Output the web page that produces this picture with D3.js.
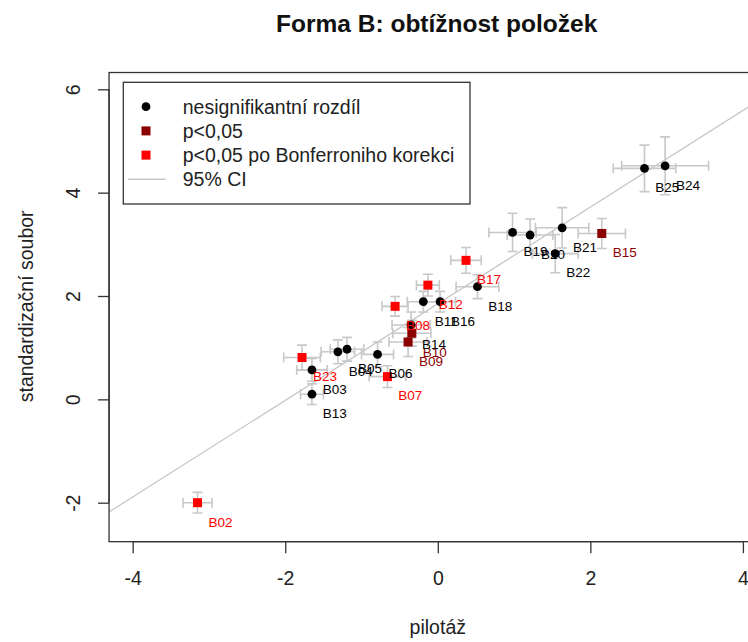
<!DOCTYPE html>
<html>
<head>
<meta charset="utf-8">
<script src="https://cdn.jsdelivr.net/npm/d3@7"></script>
<style>
  body { margin: 0; background: #fff; }
  text { font-family: "Liberation Sans", Arial, sans-serif; }
</style>
</head>
<body>
<div id="chart"></div>
<script>
// item labels, pilot (x) vs standardisation sample (y), with 95% CI half-widths
const items = ['B02','B03','B04','B05','B06','B07','B08','B09','B10','B11','B12','B13',
               'B14','B15','B16','B17','B18','B19','B20','B21','B22','B23','B24','B25'];
const pilot = [-3.15,-1.65,-1.31,-1.19,-0.79,-0.66,-0.56,-0.39,-0.34,-0.19,-0.13,-1.65,
               -0.35, 2.15, 0.03, 0.37, 0.52, 0.98, 1.21, 1.63, 1.54,-1.78, 2.98, 2.71];
const standard = [-2.00, 0.57, 0.92, 0.97, 0.87, 0.44, 1.80, 1.11, 1.28, 1.89, 2.21, 0.10,
                  1.44, 3.21, 1.89, 2.69, 2.18, 3.23, 3.18, 3.32, 2.82, 0.81, 4.52, 4.47];
const ciPilot = [0.19,0.20,0.22,0.22,0.21,0.24,0.17,0.25,0.25,0.21,0.15,0.15,
                 0.25,0.31,0.20,0.20,0.28,0.31,0.30,0.35,0.30,0.24,0.57,0.41];
const ciStandard = [0.20,0.22,0.23,0.23,0.24,0.21,0.19,0.28,0.25,0.20,0.21,0.20,
                    0.25,0.29,0.20,0.25,0.23,0.37,0.31,0.39,0.37,0.24,0.56,0.45];
// 0 = nesignifikantní, 1 = p<0,05, 2 = po Bonferroniho korekci
const group = [2,0,0,0,0,2,2,1,1,0,2,0,
               0,1,0,2,0,0,0,0,0,2,0,0];

const legendLabels = ['nesignifikantní rozdíl', 'p<0,05', 'p<0,05 po Bonferroniho korekci', '95% CI'];
const groupColors = ['#000000', '#8b0000', '#ff0000'];
const xTicks = [-4, -2, 0, 2, 4];
const yTicks = [-2, 0, 2, 4, 6];
const fitIntercept = 1.85;
const fitSlope = 0.935;

const data = items.map((d, i) => ({
  id: d, x: pilot[i], y: standard[i], ex: ciPilot[i], ey: ciStandard[i], g: group[i]
}));

const width = 748, height = 642;
const xlim = [-4.31, 4.6], ylim = [-2.754, 6.325];

const x = d3.scaleLinear().domain([-4, 4]).range([132.7, 742.9]);
const y = d3.scaleLinear().domain([-2, 6]).range([502.7, 89.3]);

const svg = d3.select('#chart')
  .append('svg')
  .attr('width', width)
  .attr('height', height);

svg.append('defs').append('clipPath')
  .attr('id', 'plotclip')
  .append('rect')
  .attr('x', x(xlim[0]))
  .attr('y', y(ylim[1]))
  .attr('width', x(xlim[1]) - x(xlim[0]))
  .attr('height', y(ylim[0]) - y(ylim[1]));

// title
svg.append('text')
  .attr('x', 436.7)
  .attr('y', 32)
  .attr('text-anchor', 'middle')
  .attr('font-size', 24.5)
  .attr('font-weight', 'bold')
  .attr('fill', '#111')
  .text('Forma B: obtížnost položek');

// fitted line
const plot = svg.append('g').attr('clip-path', 'url(#plotclip)');
plot.append('line')
  .attr('x1', x(xlim[0]))
  .attr('y1', y(fitIntercept + fitSlope * xlim[0]))
  .attr('x2', x(xlim[1]))
  .attr('y2', y(fitIntercept + fitSlope * xlim[1]))
  .attr('stroke', '#c4c4c4')
  .attr('stroke-width', 1.2);

// error bars
const ciColor = '#c8c8c8';
const cap = 5;
const bars = plot.append('g')
  .attr('stroke', ciColor)
  .attr('stroke-width', 1.6)
  .attr('fill', 'none');

data.forEach(d => {
  const cx = x(d.x), cy = y(d.y);
  const x0 = x(d.x - d.ex), x1 = x(d.x + d.ex);
  const y0 = y(d.y - d.ey), y1 = y(d.y + d.ey);
  bars.append('path')
    .attr('d', `M${x0},${cy}H${x1}M${x0},${cy - cap}V${cy + cap}M${x1},${cy - cap}V${cy + cap}`);
  bars.append('path')
    .attr('d', `M${cx},${y0}V${y1}M${cx - cap},${y0}H${cx + cap}M${cx - cap},${y1}H${cx + cap}`);
});

// points, drawn group by group
[0, 1, 2].forEach(g => {
  const sub = data.filter(d => d.g === g);
  if (g === 0) {
    plot.selectAll(null)
      .data(sub)
      .enter().append('circle')
      .attr('cx', d => x(d.x))
      .attr('cy', d => y(d.y))
      .attr('r', 4.4)
      .attr('fill', groupColors[g]);
  } else {
    plot.selectAll(null)
      .data(sub)
      .enter().append('rect')
      .attr('x', d => x(d.x) - 4.5)
      .attr('y', d => y(d.y) - 4.5)
      .attr('width', 9)
      .attr('height', 9)
      .attr('fill', groupColors[g]);
  }
});

// item labels (they overlap in the original too)
plot.selectAll(null)
  .data(data)
  .enter().append('text')
  .attr('x', d => x(d.x + 0.3))
  .attr('y', d => y(d.y - 0.37))
  .attr('dy', '0.35em')
  .attr('text-anchor', 'middle')
  .attr('font-size', 13.5)
  .attr('fill', d => groupColors[d.g])
  .text(d => d.id);

// box
svg.append('rect')
  .attr('x', x(xlim[0]))
  .attr('y', y(ylim[1]))
  .attr('width', x(xlim[1]) - x(xlim[0]))
  .attr('height', y(ylim[0]) - y(ylim[1]))
  .attr('fill', 'none')
  .attr('stroke', '#333')
  .attr('stroke-width', 1.3);

// axes, R prints a plain hyphen for negatives
const fmt = d => String(d);
const xAxis = svg.append('g')
  .attr('transform', `translate(0,${y(ylim[0])})`)
  .call(d3.axisBottom(x).tickValues(xTicks).tickSize(11.5).tickPadding(18).tickFormat(fmt));
const yAxis = svg.append('g')
  .attr('transform', `translate(${x(xlim[0])},0)`)
  .call(d3.axisLeft(y).tickValues(yTicks).tickSize(11).tickFormat(fmt));

[xAxis, yAxis].forEach(a => {
  a.select('.domain').attr('stroke', '#333').attr('stroke-width', 1.3);
  a.selectAll('.tick line').attr('stroke', '#333').attr('stroke-width', 1.3);
  a.selectAll('text')
    .attr('font-family', '"Liberation Sans", Arial, sans-serif')
    .attr('font-size', 19.5)
    .attr('fill', '#222');
});
xAxis.select('.domain').attr('d', `M${x(-4)},0H${x(4)}`);
yAxis.select('.domain').attr('d', `M0,${y(-2)}V${y(6)}`);

// R-style rotated y tick labels
yAxis.selectAll('.tick text')
  .attr('x', 0)
  .attr('dy', null)
  .attr('text-anchor', 'middle')
  .attr('transform', 'translate(-36,0) rotate(-90) translate(0,7)');

// axis titles
svg.append('text')
  .attr('x', x(0))
  .attr('y', 634)
  .attr('text-anchor', 'middle')
  .attr('font-size', 19.5)
  .attr('fill', '#222')
  .text('pilotáž');

svg.append('text')
  .attr('transform', `translate(33,${y(1.8)}) rotate(-90)`)
  .attr('text-anchor', 'middle')
  .attr('font-size', 19.5)
  .attr('fill', '#222')
  .text('standardizační soubor');

// legend
const legend = svg.append('g');
legend.append('rect')
  .attr('x', 123.3)
  .attr('y', 82.3)
  .attr('width', 346.7)
  .attr('height', 121.7)
  .attr('fill', '#fff')
  .attr('stroke', '#333')
  .attr('stroke-width', 1.3);

const rowY = d3.scalePoint().domain(legendLabels).range([106.7, 179.3]);

legendLabels.forEach((lab, i) => {
  const ry = rowY(lab);
  if (i === 0) {
    legend.append('circle').attr('cx', 146).attr('cy', ry).attr('r', 4.4).attr('fill', groupColors[0]);
  } else if (i < 3) {
    legend.append('rect').attr('x', 141.5).attr('y', ry - 4.5).attr('width', 9).attr('height', 9)
      .attr('fill', groupColors[i]);
  } else {
    legend.append('line').attr('x1', 128).attr('x2', 165.7).attr('y1', ry).attr('y2', ry)
      .attr('stroke', ciColor).attr('stroke-width', 1.6);
  }
  legend.append('text')
    .attr('x', 182.7)
    .attr('y', ry)
    .attr('dy', '0.35em')
    .attr('font-size', 19.5)
    .attr('fill', '#222')
    .text(lab);
});
</script>
</body>
</html>
